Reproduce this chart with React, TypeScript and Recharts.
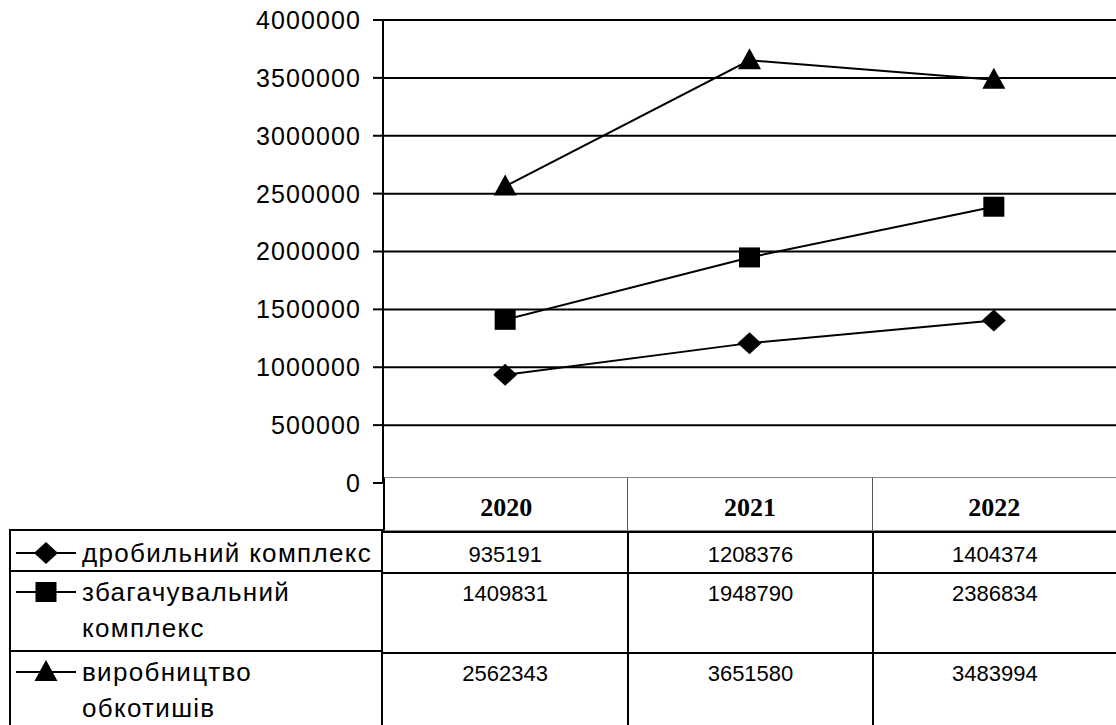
import { LineChart, Line, XAxis, YAxis, CartesianGrid } from 'recharts';

const years = ['2020', '2021', '2022'];
const crushing = [935191, 1208376, 1404374];
const enrichment = [1409831, 1948790, 2386834];
const pellets = [2562343, 3651580, 3483994];
const seriesKeys = ['crushing', 'enrichment', 'pellets'];
const seriesLabels = [
  'дробильний комплекс',
  'збагачувальний\nкомплекс',
  'виробництво\nобкотишів',
];
const seriesShapes = ['diamond', 'square', 'triangle'];
const seriesValues = [crushing, enrichment, pellets];
const yTicks = [0, 500000, 1000000, 1500000, 2000000, 2500000, 3000000, 3500000, 4000000];

const data = years.map((year, i) => ({
  year,
  crushing: crushing[i],
  enrichment: enrichment[i],
  pellets: pellets[i],
}));

const SANS = "'Liberation Sans', Arial, sans-serif";
const SERIF = "'Liberation Serif', 'Times New Roman', serif";

// layout
const W = 1116;
const H = 725;
const PLOT_LEFT = 383;
const PLOT_TOP = 20;
const PLOT_BOTTOM = 483;
const COL_W = (W - PLOT_LEFT) / years.length;
const HEAD_TOP = 477;
const HEAD_BOTTOM = 531;
const ROW_BOUNDS = [531, 572, 652, 740];
const TABLE_LEFT = 9;

function Marker({ cx, cy, shape }: { cx: number; cy: number; shape: string }) {
  if (cx == null || cy == null) return null;
  if (shape === 'diamond') {
    const pts = `${cx},${cy - 11} ${cx + 12},${cy} ${cx},${cy + 11} ${cx - 12},${cy}`;
    return <polygon points={pts} fill="#000" />;
  }
  if (shape === 'square') {
    return <rect x={cx - 10.5} y={cy - 10} width={21} height={20} fill="#000" />;
  }
  const pts = `${cx},${cy - 12} ${cx + 11.5},${cy + 9} ${cx - 11.5},${cy + 9}`;
  return <polygon points={pts} fill="#000" />;
}

function LegendIcon({ shape }: { shape: string }) {
  return (
    <svg width={62} height={24} style={{ display: 'block' }}>
      <line x1={0} y1={12} x2={60} y2={12} stroke="#000" strokeWidth={2} />
      <Marker cx={30} cy={12} shape={shape} />
    </svg>
  );
}

export default function App() {
  return (
    <div style={{ position: 'fixed', left: 0, top: 0, width: W, height: H, background: '#fff', overflow: 'hidden' }}>
      <LineChart
        width={W}
        height={H}
        data={data}
        margin={{ top: PLOT_TOP, right: 0, bottom: H - PLOT_BOTTOM, left: 0 }}
      >
        <CartesianGrid vertical={false} stroke="#000" strokeWidth={2} />
        <XAxis dataKey="year" hide padding={{ left: COL_W / 2, right: COL_W / 2 }} />
        <YAxis
          width={PLOT_LEFT}
          domain={[0, 4000000]}
          ticks={yTicks}
          interval={0}
          axisLine={{ stroke: '#000', strokeWidth: 2 }}
          tickLine={{ stroke: '#000', strokeWidth: 2 }}
          tickSize={10}
          tickMargin={12}
          tick={{ fill: '#000', fontSize: 25, fontFamily: SANS, letterSpacing: 1.1 }}
        />
        {seriesKeys.map((key, s) => (
          <Line
            key={key}
            dataKey={key}
            type="linear"
            stroke="#000"
            strokeWidth={2}
            isAnimationActive={false}
            dot={(p: any) => <Marker key={`${key}-${p.index}`} cx={p.cx} cy={p.cy} shape={seriesShapes[s]} />}
            activeDot={false}
          />
        ))}
      </LineChart>

      {/* data table: header row */}
      {years.map((year, i) => (
        <div
          key={year}
          style={{
            position: 'absolute',
            left: PLOT_LEFT + i * COL_W,
            top: HEAD_TOP,
            width: COL_W,
            height: HEAD_BOTTOM - HEAD_TOP,
            boxSizing: 'border-box',
            background: '#fff',
            borderTop: '1.5px solid #8a8a8a',
            borderBottom: '1.5px solid #8a8a8a',
            borderLeft: i === 0 ? '2px solid #000' : '1.5px solid #555',
            fontFamily: SERIF,
            fontWeight: 'bold',
            fontSize: 26,
            textAlign: 'center',
            paddingTop: 15,
            lineHeight: '30px',
            color: '#000',
          }}
        >
          {year}
        </div>
      ))}

      {/* data table: series rows */}
      {seriesKeys.map((key, s) => {
        const top = ROW_BOUNDS[s];
        const h = ROW_BOUNDS[s + 1] - top;
        return (
          <div key={key}>
            <div
              style={{
                position: 'absolute',
                left: TABLE_LEFT,
                top: top - 2,
                width: PLOT_LEFT - TABLE_LEFT,
                height: h + 2,
                boxSizing: 'border-box',
                background: '#fff',
                borderTop: '2px solid #000',
                borderLeft: '2px solid #000',
                borderRight: '2px solid #000',
                display: 'flex',
                alignItems: 'flex-start',
                paddingTop: s === 0 ? 4 : 2,
                color: '#000',
              }}
            >
              <div style={{ paddingTop: 6, paddingLeft: 5 }}>
                <LegendIcon shape={seriesShapes[s]} />
              </div>
              <div
                style={{
                  whiteSpace: 'pre-line',
                  fontFamily: SANS,
                  fontSize: 26,
                  letterSpacing: 1.3,
                  lineHeight: '36px',
                  paddingLeft: 4,
                }}
              >
                {seriesLabels[s]}
              </div>
            </div>
            {seriesValues[s].map((v, i) => (
              <div
                key={i}
                style={{
                  position: 'absolute',
                  left: PLOT_LEFT + i * COL_W,
                  top,
                  width: COL_W,
                  height: h,
                  boxSizing: 'border-box',
                  background: '#fff',
                  borderTop: '2px solid #000',
                  borderLeft: i === 0 ? 'none' : '2px solid #000',
                  fontFamily: SANS,
                  fontSize: 22,
                  textAlign: 'center',
                  paddingTop: s === 0 ? 4 : 2,
                  lineHeight: '36px',
                  color: '#000',
                }}
              >
                {v}
              </div>
            ))}
          </div>
        );
      })}
    </div>
  );
}
